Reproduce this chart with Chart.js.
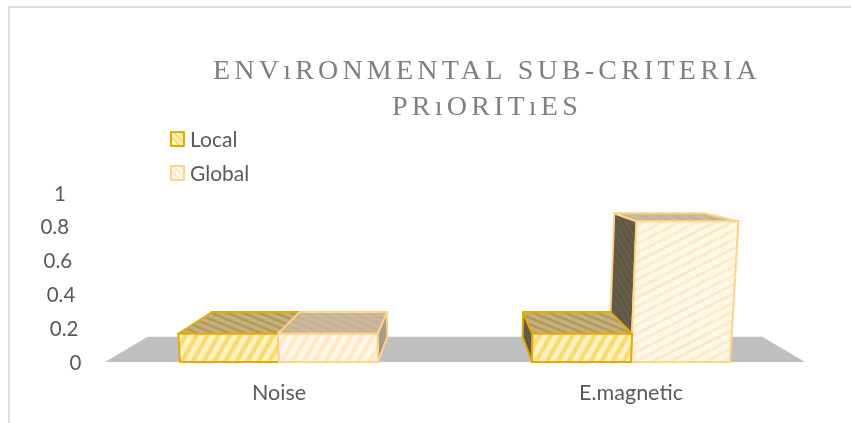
<!DOCTYPE html>
<html>
<head>
<meta charset="utf-8">
<title>Environmental sub-criteria priorities</title>
<script src="https://cdn.jsdelivr.net/npm/chart.js@4/dist/chart.umd.min.js"></script>
<style>
    html, body { margin: 0; padding: 0; background: #fff; overflow: hidden; }
    #frame { position: absolute; left: 8px; top: 6px; right: 0; bottom: 0; border-left: 2px solid #dcdcdc; border-top: 2px solid #dcdcdc; }
    #chart { position: absolute; left: 0; top: 0; }
</style>
</head>
<body>
<div id="frame"></div>
<canvas id="chart" width="851" height="423"></canvas>
<script>
const categories = ["Noise", "E.magnetic"];
const localValues = [0.167, 0.167];
const globalValues = [0.167, 0.833];
const yTicks = [0, 0.2, 0.4, 0.6, 0.8, 1];
const titleLines = ["ENVıRONMENTAL SUB-CRITERIA", "PRıORITıES"];

const FONT = "Lato, 'Open Sans', sans-serif";
const DEPTH = 0.122;       // how far the back of a box shrinks to the vanishing point
const KEYSTONE = 0.00022;  // tall front faces lean away from the centre
const VANISH_Y = 156;

const localStyle = {
    edge: "#e3aa08",
    front: ["#fff4c0", "#f9da74"],
    top: ["#c2b188", "#b99a4a"],
    side: ["#5f5848", "#6b5f45"],
};
const globalStyle = {
    edge: "#fdd488",
    front: ["#fff8ea", "#ffeac6"],
    top: ["#c5baa5", "#cbb088"],
    side: ["#a89c88", "#a89c88"],
};

function polygon(ctx, pts) {
    ctx.beginPath();
    pts.forEach((p, i) => (i ? ctx.lineTo(p[0], p[1]) : ctx.moveTo(p[0], p[1])));
    ctx.closePath();
}

// fill a face with a base colour and parallel stripes, then outline it
function hatchFace(ctx, pts, colors, edge, angle, gap, lineWidth) {
    ctx.save();
    polygon(ctx, pts);
    ctx.fillStyle = colors[0];
    ctx.fill();
    ctx.clip();
    const xs = pts.map((p) => p[0]);
    const ys = pts.map((p) => p[1]);
    const cx = (Math.min(...xs) + Math.max(...xs)) / 2;
    const cy = (Math.min(...ys) + Math.max(...ys)) / 2;
    const reach = Math.max(...xs) - Math.min(...xs) + Math.max(...ys) - Math.min(...ys);
    ctx.translate(cx, cy);
    ctx.rotate((angle * Math.PI) / 180);
    ctx.strokeStyle = colors[1];
    ctx.lineWidth = lineWidth;
    ctx.beginPath();
    for (let d = -reach; d <= reach; d += gap) {
        ctx.moveTo(-reach, d);
        ctx.lineTo(reach, d);
    }
    ctx.stroke();
    ctx.restore();
    polygon(ctx, pts);
    ctx.strokeStyle = edge;
    ctx.lineWidth = 2;
    ctx.lineJoin = "round";
    ctx.stroke();
}

function drawBox(ctx, bar, style, vanishX) {
    const x0 = bar.x - bar.width / 2;
    const x1 = bar.x + bar.width / 2;
    const h = bar.base - bar.y;
    const lean = (x) => x + (x - vanishX) * KEYSTONE * h;
    const back = (x, y) => [x + (vanishX - x) * DEPTH, y + (VANISH_Y - y) * DEPTH];
    const tl = [lean(x0), bar.y];
    const tr = [lean(x1), bar.y];
    const bl = [x0, bar.base];
    const br = [x1, bar.base];

    if (x1 < vanishX) {
        hatchFace(ctx, [tr, back(tr[0], tr[1]), back(br[0], br[1]), br], style.side, style.edge, 60, 5, 2);
    }
    if (x0 > vanishX) {
        hatchFace(ctx, [tl, back(tl[0], tl[1]), back(bl[0], bl[1]), bl], localStyle.side, style.edge, 60, 5, 2);
    }
    hatchFace(ctx, [tl, back(tl[0], tl[1]), back(tr[0], tr[1]), tr], style.top, style.edge, 22, 6, 2.5);

    const tall = h > 60;
    hatchFace(ctx, [bl, tl, tr, br], style.front, style.edge, tall ? -27 : -60, tall ? 8 : 9.5, tall ? 3 : 4.5);
}

const box3d = {
    id: "box3d",
    beforeDatasetsDraw(chart) {
        const ctx = chart.ctx;
        const area = chart.chartArea;
        const y0 = chart.scales.y.getPixelForValue(0);
        const vanishX = (area.left + area.right) / 2;
        const backOf = (x) => x + (vanishX - x) * DEPTH;

        // grey floor under the boxes
        polygon(ctx, [
            [area.left + 2, y0],
            [backOf(area.left + 2), y0 + (VANISH_Y - y0) * DEPTH],
            [backOf(area.right - 2), y0 + (VANISH_Y - y0) * DEPTH],
            [area.right - 2, y0],
        ]);
        ctx.fillStyle = "#bfbfbf";
        ctx.fill();

        // boxes right of the centre are painted far one first
        const order = [[0, 0, localStyle], [1, 0, globalStyle], [1, 1, globalStyle], [0, 1, localStyle]];
        order.forEach(([ds, i, style]) => {
            drawBox(ctx, chart.getDatasetMeta(ds).data[i], style, vanishX);
        });
        return false;
    },
    afterDraw(chart) {
        const ctx = chart.ctx;
        ctx.save();

        // title
        ctx.font = "28px 'Liberation Serif', serif";
        ctx.letterSpacing = "4.2px";
        ctx.fillStyle = "#7f7f7f";
        ctx.textAlign = "center";
        ctx.textBaseline = "middle";
        titleLines.forEach((line, i) => ctx.fillText(line, 487, 72 + i * 36));
        ctx.letterSpacing = "0px";

        // value labels step inwards going up the slanted wall
        const yScale = chart.scales.y;
        ctx.font = "20.5px " + FONT;
        ctx.fillStyle = "#595959";
        ctx.textAlign = "right";
        yTicks.forEach((v) => {
            ctx.fillText(String(v), 81.5 - v * 15.5, yScale.getPixelForValue(v) + 1);
        });

        // legend
        ctx.font = "21px " + FONT;
        ctx.textAlign = "left";
        chart.data.datasets.forEach((ds, i) => {
            const top = 132 + i * 34;
            const style = i ? globalStyle : localStyle;
            hatchFace(ctx, [[171, top], [184, top], [184, top + 14], [171, top + 14]], style.front, style.edge, 45, 5, 2);
            ctx.fillStyle = "#595959";
            ctx.fillText(ds.label, 190, top + 8);
        });
        ctx.restore();
    },
};

new Chart(document.getElementById("chart"), {
    type: "bar",
    data: {
        labels: categories,
        datasets: [
            { label: "Local", data: localValues, backgroundColor: localStyle.front[1], borderColor: localStyle.edge },
            { label: "Global", data: globalValues, backgroundColor: globalStyle.front[1], borderColor: globalStyle.edge },
        ],
    },
    options: {
        responsive: false,
        animation: false,
        layout: { padding: { left: 103, right: 44, top: 193, bottom: 0 } },
        datasets: { bar: { barPercentage: 1, categoryPercentage: 0.5625 } },
        plugins: { legend: { display: false }, title: { display: false }, tooltip: { enabled: false } },
        scales: {
            x: {
                grid: { display: false, drawTicks: false },
                border: { display: false },
                ticks: { color: "#595959", font: { family: FONT, size: 21.5 }, padding: 18 },
                afterFit(scale) { scale.height = 61; },
            },
            y: {
                min: 0,
                max: 1,
                grid: { display: false, drawTicks: false },
                border: { display: false },
                ticks: { display: false, stepSize: 0.2 },
                afterFit(scale) { scale.width = 0; },
            },
        },
    },
    plugins: [box3d],
});
</script>
</body>
</html>
